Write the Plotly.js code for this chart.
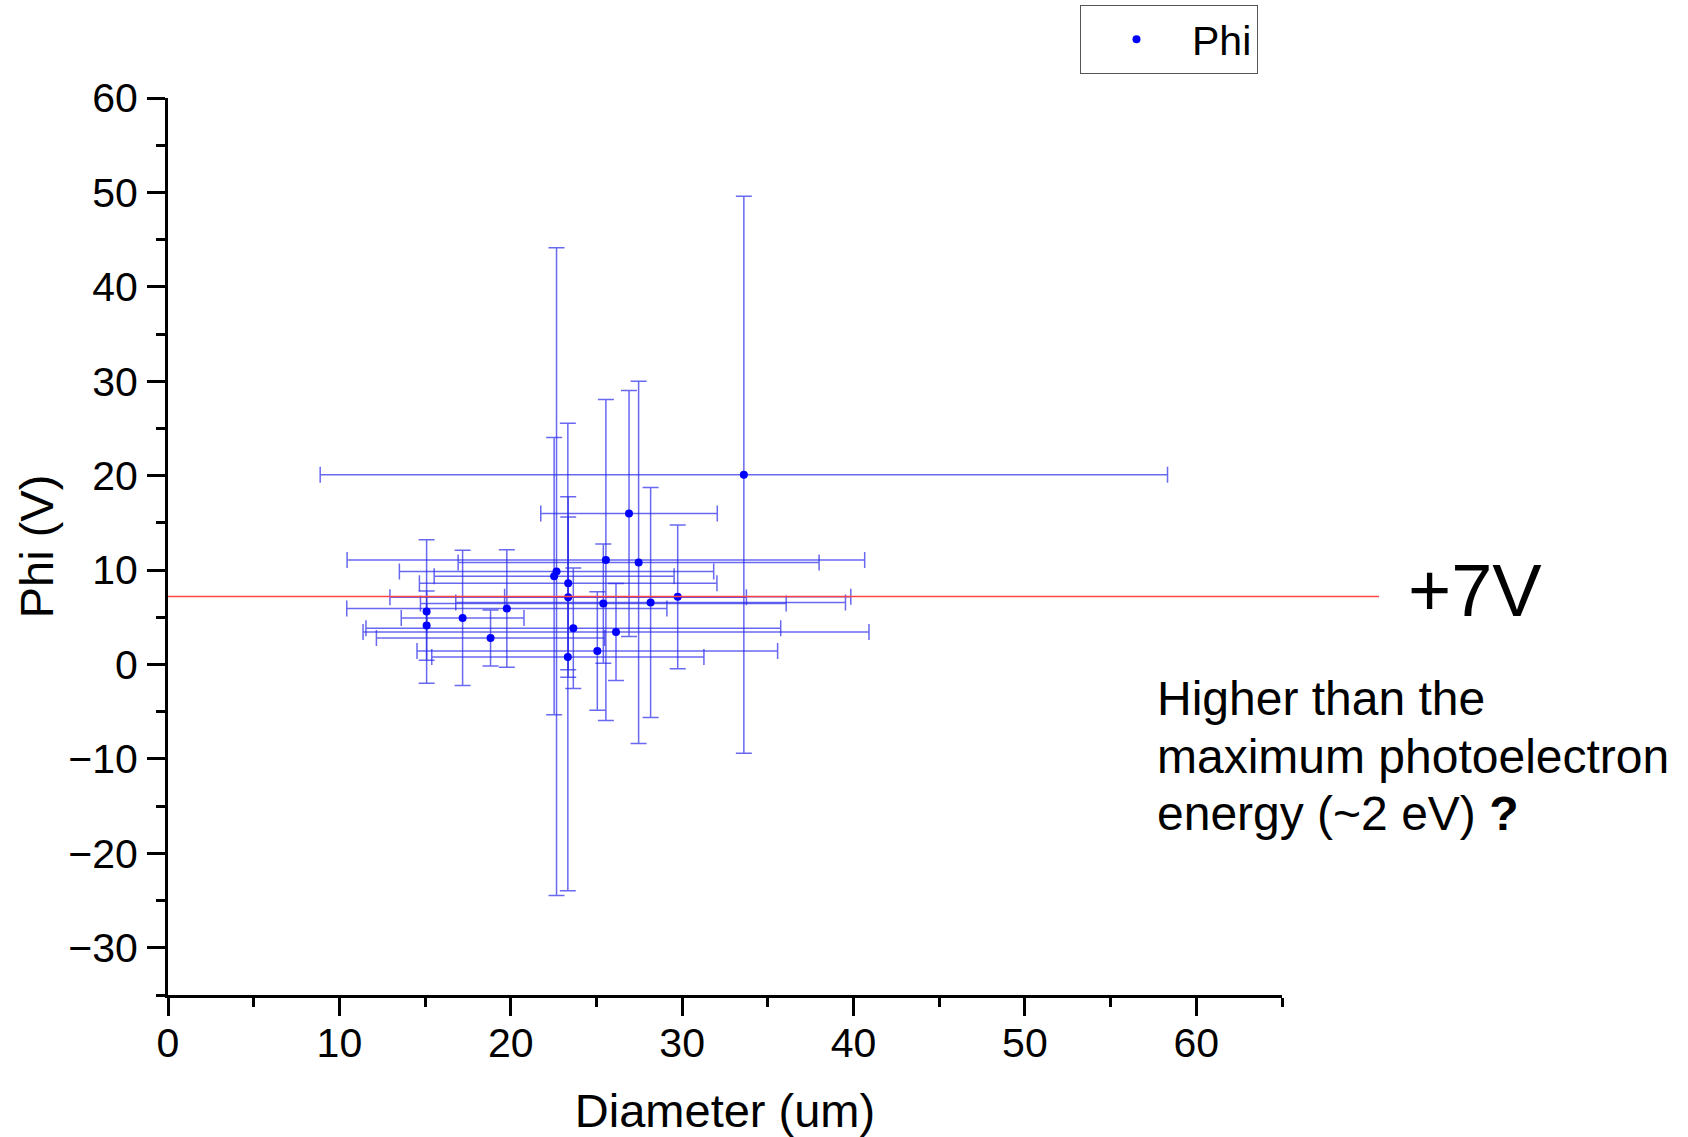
<!DOCTYPE html>
<html>
<head>
<meta charset="utf-8">
<script src="https://cdn.plot.ly/plotly-3.0.1.min.js"></script>
<style>
  html, body { margin: 0; padding: 0; background: #ffffff; }
  #chart { width: 1688px; height: 1137px; }
</style>
</head>
<body>
<div id="chart"></div>
<script>
// ---- data ----
const diameter   = [15.09, 15.09, 17.19, 18.82, 19.77, 22.67, 22.53, 23.35, 23.35, 23.65,
                    23.33, 25.55, 25.40, 25.05, 26.14, 27.46, 28.16, 29.74, 26.90, 33.60];
const diameterErr = [0, 0, 3.58, 6.66, 9.34, 9.17, 7.00, 8.68, 10.40, 12.10,
                     7.94, 15.10, 10.67, 10.52, 14.76, 10.53, 11.37, 10.10, 5.15, 24.72];
const phi        = [5.61, 4.12, 4.94, 2.81, 5.93, 9.85, 9.36, 8.62, 7.13, 3.84,
                    0.80, 11.06, 6.45, 1.43, 3.45, 10.81, 6.56, 7.17, 16.00, 20.10];
const phiErr     = [7.60, 3.68, 7.15, 2.96, 6.23, 34.30, 14.68, 9.16, 8.49, 6.39,
                    24.76, 17.00, 6.31, 6.27, 5.13, 19.18, 12.18, 7.61, 13.03, 29.50];
const seriesName = 'Phi';
const refLevel   = 7.2;           // the red "+7V" reference line
const refLabel   = '+7V';
const noteLines  = ['Higher than the', 'maximum photoelectron', 'energy (~2 eV) <b>?</b>'];
const xTitle = 'Diameter (um)';
const yTitle = 'Phi (V)';

const FONT = 'Liberation Sans, Arial, Helvetica, sans-serif';
const errColor = 'rgba(40,40,235,0.7)';

const trace = {
  type: 'scatter',
  mode: 'markers',
  name: seriesName,
  x: diameter,
  y: phi,
  marker: { color: '#0000ff', size: 8 },
  error_x: { type: 'data', array: diameterErr, visible: true, color: errColor, thickness: 1.5, width: 8 },
  error_y: { type: 'data', array: phiErr, visible: true, color: errColor, thickness: 1.5, width: 8 }
};

const axisCommon = {
  showgrid: false,
  zeroline: false,
  showline: true,
  linecolor: '#000000',
  linewidth: 3,
  ticks: 'outside',
  ticklen: 18,
  tickwidth: 3,
  tickcolor: '#000000',
  tickfont: { family: FONT, size: 41, color: '#000000' },
  minor: { ticks: 'outside', ticklen: 9, tickwidth: 3, tickcolor: '#000000', dtick: 5, tick0: 0, showgrid: false }
};

const layout = {
  width: 1688,
  height: 1137,
  paper_bgcolor: '#ffffff',
  plot_bgcolor: '#ffffff',
  margin: { l: 168, r: 406, t: 98, b: 142, autoexpand: false },
  font: { family: FONT, color: '#000000' },
  showlegend: true,
  legend: {
    xref: 'container', yref: 'container',
    x: 0.6398, xanchor: 'left', y: 0.9956, yanchor: 'top',
    bgcolor: '#ffffff', bordercolor: '#555555', borderwidth: 1,
    font: { family: FONT, size: 41, color: '#000000' },
    itemwidth: 101
  },
  xaxis: Object.assign({}, axisCommon, {
    range: [0, 65], tick0: 0, dtick: 10,
    ticklabelstandoff: -8,
    title: { text: xTitle, font: { family: FONT, size: 47, color: '#000000' }, standoff: 31 }
  }),
  yaxis: Object.assign({}, axisCommon, {
    range: [-35, 60], tick0: 0, dtick: 10,
    ticklabelstandoff: 1,
    title: { text: yTitle, font: { family: FONT, size: 47, color: '#000000' }, standoff: 0 }
  }),
  shapes: [{
    type: 'line', xref: 'paper', yref: 'y',
    x0: 0, x1: 1.0871, y0: refLevel, y1: refLevel,
    line: { color: '#ff4646', width: 1.5 }
  }],
  annotations: [
    { xref: 'paper', yref: 'paper', x: 1.1116, y: 0.451, xanchor: 'left', yanchor: 'middle',
      text: refLabel, showarrow: false, font: { family: FONT, size: 74, color: '#000000' } },
    { xref: 'paper', yref: 'paper', x: 0.8856, y: 0.3305, xanchor: 'left', yanchor: 'middle',
      text: noteLines[0], showarrow: false, align: 'left', font: { family: FONT, size: 48, color: '#000000' } },
    { xref: 'paper', yref: 'paper', x: 0.8856, y: 0.2655, xanchor: 'left', yanchor: 'middle',
      text: noteLines[1], showarrow: false, align: 'left', font: { family: FONT, size: 48, color: '#000000' } },
    { xref: 'paper', yref: 'paper', x: 0.8856, y: 0.2022, xanchor: 'left', yanchor: 'middle',
      text: noteLines[2], showarrow: false, align: 'left', font: { family: FONT, size: 48, color: '#000000' } }
  ]
};

Plotly.newPlot('chart', [trace], layout, { displayModeBar: false, staticPlot: true });
</script>
</body>
</html>
